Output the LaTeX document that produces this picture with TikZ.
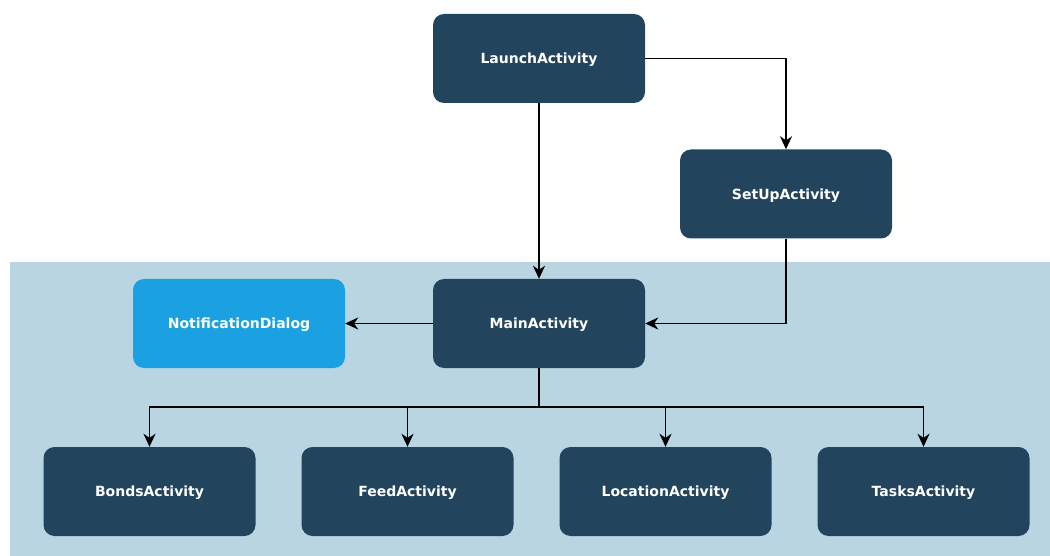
\documentclass[tikz,border=0pt]{standalone}
\usepackage{fontspec}
\setmainfont{DejaVu Sans}
\usetikzlibrary{arrows.meta}
\definecolor{navy}{HTML}{23445D}
\definecolor{dialogblue}{HTML}{1BA1E2}
\definecolor{panel}{HTML}{B9D5E2}
\tikzset{
  box/.style={rectangle, rounded corners=11pt, minimum width=212pt, minimum height=89pt,
    inner sep=0pt, text=white, text depth=-2pt, font=\bfseries\fontsize{14}{16}\selectfont},
  activity/.style={box, fill=navy},
  dialog/.style={box, fill=dialogblue},
  link/.style={line width=1.8pt, -{Stealth[length=13pt, width=12pt, inset=4pt]}},
  wire/.style={line width=1.8pt}
}
\begin{document}
\begin{tikzpicture}[x=1pt, y=-1pt]
  \useasboundingbox (0,0) rectangle (1050,556);
  % shaded area holding the main screen and its children
  \fill[panel] (10,262) rectangle (1050,556);

  \node[activity] (launch) at (539,58.5) {LaunchActivity};
  \node[activity] (setup)  at (786,194)  {SetUpActivity};
  \node[activity] (main)   at (539,323.5) {MainActivity};
  \node[dialog]   (notif)  at (239,323.5) {NotificationDialog};

  \node[activity] (bonds)    at (149.5,491.5) {BondsActivity};
  \node[activity] (feed)     at (407.5,491.5) {FeedActivity};
  \node[activity] (location) at (665.5,491.5) {LocationActivity};
  \node[activity] (tasks)    at (923.5,491.5) {TasksActivity};

  \coordinate (bus) at (539,407);

  \draw[link] (launch) -- (main);
  \draw[link] (launch.east) -| (setup.north);
  \draw[link] (setup.south) |- (main.east);
  \draw[link] (main.west) -- (notif.east);

  \draw[wire] (main.south) -- (bus);
  \draw[link] (bus) -| (bonds.north);
  \draw[link] (bus) -| (feed.north);
  \draw[link] (bus) -| (location.north);
  \draw[link] (bus) -| (tasks.north);
\end{tikzpicture}
\end{document}
